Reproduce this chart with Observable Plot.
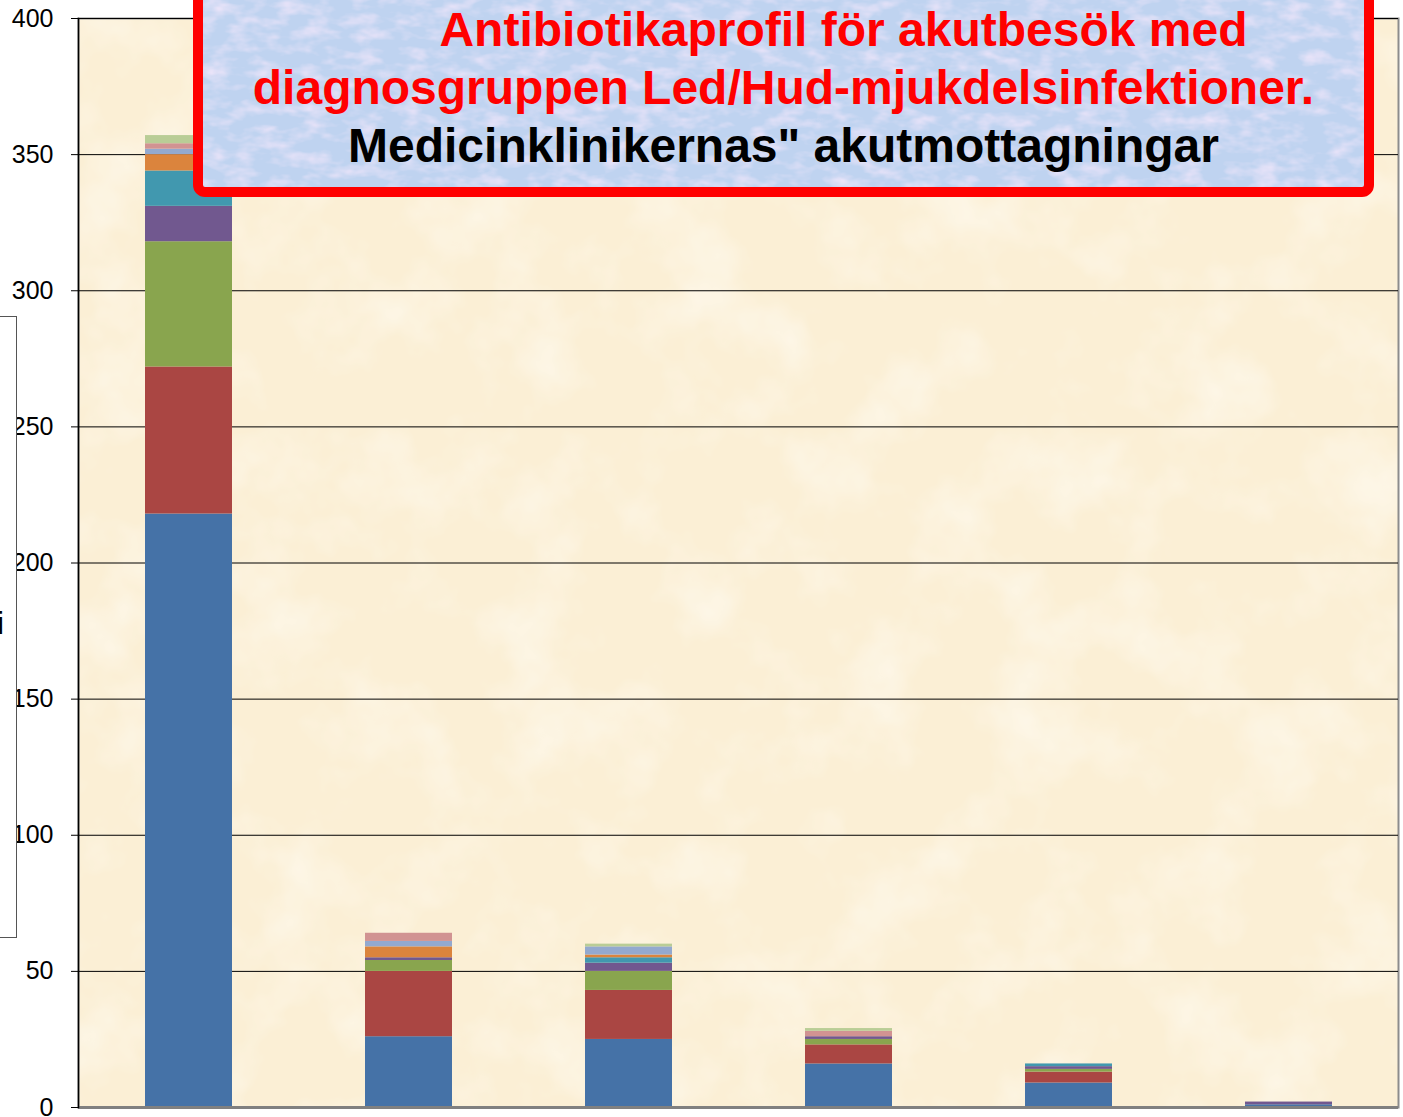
<!DOCTYPE html>
<html><head><meta charset="utf-8">
<script src="https://cdn.jsdelivr.net/npm/d3@7"></script>
<script src="https://cdn.jsdelivr.net/npm/@observablehq/plot@0.6"></script>
<style>
html,body{margin:0;padding:0;background:#fff;}
body{width:1403px;height:1117px;overflow:hidden;position:relative;font-family:"Liberation Sans",Arial,sans-serif;}
#paper{position:absolute;left:78px;top:18px;width:1320px;height:1089px;background-color:#fbefd5;
 background-image:url("data:image/svg+xml,%3Csvg xmlns='http://www.w3.org/2000/svg' width='1320' height='1089'%3E%3Cfilter id='f'%3E%3CfeTurbulence type='fractalNoise' baseFrequency='0.012' numOctaves='4' seed='7'/%3E%3CfeColorMatrix values='0 0 0 0 1 0 0 0 0 0.99 0 0 0 0 0.95 1.2 0 0 0 -0.55'/%3E%3C/filter%3E%3Crect width='100%25' height='100%25' filter='url(%23f)'/%3E%3C/svg%3E");}
#chart{position:absolute;left:0;top:0;}
#legendbox{position:absolute;left:-10px;top:316px;width:27px;height:622px;box-sizing:border-box;border:1px solid #555;background:#fff;overflow:hidden;}
#legendbox span{position:absolute;left:6px;top:290px;font-size:32px;line-height:32px;color:#000;}
#titlebox{position:absolute;left:193px;top:-20px;width:1181px;height:217px;box-sizing:border-box;border:10px solid #ff0000;border-radius:12px;
 background-color:#bfd3f0;
 background-image:url("data:image/svg+xml,%3Csvg xmlns='http://www.w3.org/2000/svg' width='1161' height='197'%3E%3Cfilter id='g'%3E%3CfeTurbulence type='fractalNoise' baseFrequency='0.04 0.08' numOctaves='3' seed='3'/%3E%3CfeColorMatrix values='0 0 0 0 0.84 0 0 0 0 0.78 0 0 0 0 0.95 2 0 0 0 -0.85'/%3E%3C/filter%3E%3Crect width='100%25' height='100%25' filter='url(%23g)'/%3E%3C/svg%3E");}
.tl{position:absolute;left:193px;width:1181px;box-sizing:border-box;text-align:center;font-weight:bold;font-size:48px;line-height:58px;white-space:pre;}
</style>
</head><body>
<div id="paper"></div>
<div id="chart"></div>
<div id="legendbox"><span>i</span></div>
<div id="titlebox"></div>
<div class="tl" id="t1" style="top:1px;color:#ff0000;padding-left:120px;">Antibiotikaprofil för akutbesök med</div>
<div class="tl" id="t2" style="top:59px;color:#ff0000;">diagnosgruppen Led/Hud-mjukdelsinfektioner.</div>
<div class="tl" id="t3" style="top:117px;color:#000;">Medicinklinikernas" akutmottagningar</div>
<script>
const categories = ["Grupp 1", "Grupp 2", "Grupp 3", "Grupp 4", "Grupp 5", "Grupp 6"];
const seriesNames = ["Serie 1", "Serie 2", "Serie 3", "Serie 4", "Serie 5", "Serie 6", "Serie 7", "Serie 8", "Serie 9"];
const seriesColors = ["#4572A7", "#AA4643", "#89A54E", "#71588F", "#4198AF", "#DB843D", "#93A9CF", "#D19392", "#B9CD96"];
const serie1 = [218, 26, 25, 16, 9, 1];
const serie2 = [54, 24, 18, 7, 4, 0];
const serie3 = [46, 4, 7, 2, 1, 0];
const serie4 = [13, 1, 3, 1, 1, 1];
const serie5 = [13, 0, 2, 0, 1, 0];
const serie6 = [6, 4, 1, 0, 0, 0];
const serie7 = [2, 2, 3, 0, 0, 0];
const serie8 = [2, 3, 0, 2, 0, 0];
const serie9 = [3, 0, 1, 1, 0, 0];
const yTicks = [0, 50, 100, 150, 200, 250, 300, 350, 400];

const seriesValues = [serie1, serie2, serie3, serie4, serie5, serie6, serie7, serie8, serie9];
const rows = [];
seriesValues.forEach((vals, i) => vals.forEach((v, j) => rows.push({category: categories[j], series: seriesNames[i], value: v})));

const chart = Plot.plot({
  width: 1403,
  height: 1117,
  marginLeft: 78,
  marginRight: 5,
  marginTop: 18,
  marginBottom: 10,
  style: {fontFamily: "Liberation Sans, Arial, sans-serif", fontSize: "25px", background: "transparent", color: "#000"},
  x: {domain: categories, paddingInner: 0.605, paddingOuter: 0.3025, axis: null},
  y: {domain: [0, 400], axis: null},
  color: {domain: seriesNames, range: seriesColors},
  marks: [
    Plot.frame({fill: "none", stroke: "#8c8c8c", strokeWidth: 2}),
    Plot.gridY(yTicks, {stroke: "#000", strokeOpacity: 1, strokeWidth: 1}),
    Plot.barY(rows, {x: "category", y: "value", fill: "series"}),
    Plot.ruleY([0], {stroke: "#808080", strokeWidth: 3}),
    Plot.axisY(yTicks, {tickSize: 7, tickPadding: 18, stroke: "#000", fontSize: 25, label: null, tickFormat: d => String(d)}),
    Plot.frame({anchor: "left", stroke: "#000", strokeWidth: 1.5})
  ]
});
document.getElementById("chart").appendChild(chart);
</script>
</body></html>
